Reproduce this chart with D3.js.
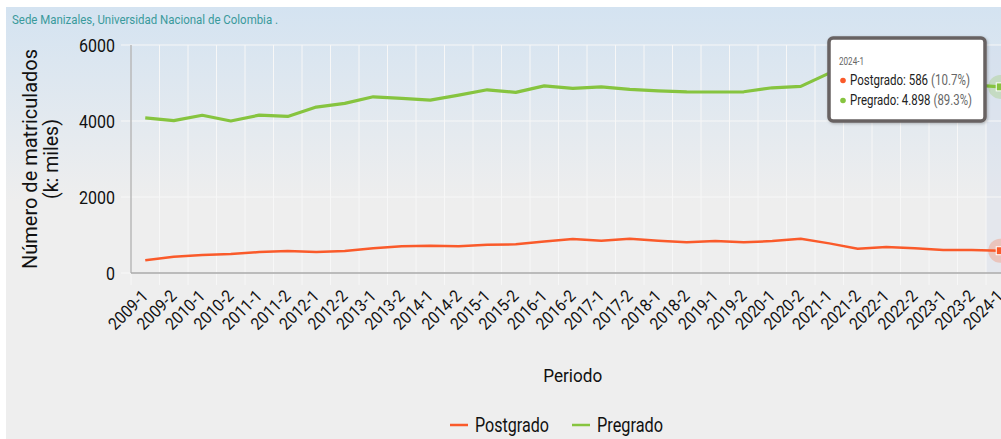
<!DOCTYPE html>
<html>
<head>
<meta charset="utf-8">
<title>Matriculados Sede Manizales</title>
<script src="https://d3js.org/d3.v7.min.js"></script>
<style>
  body { margin: 0; background: #fff; }
  svg { display: block; font-family: Roboto, "Noto Sans", sans-serif; }
</style>
</head>
<body>
<svg id="chart" width="1001" height="439"></svg>
<script>
// periods (semesters)
const periods = ["2009-1","2009-2","2010-1","2010-2","2011-1","2011-2","2012-1","2012-2",
  "2013-1","2013-2","2014-1","2014-2","2015-1","2015-2","2016-1","2016-2","2017-1","2017-2",
  "2018-1","2018-2","2019-1","2019-2","2020-1","2020-2","2021-1","2021-2","2022-1","2022-2",
  "2023-1","2023-2","2024-1"];

// values
const postgrado = [334, 429, 473, 500, 552, 579, 552, 579, 649, 702, 719, 702, 745, 754, 830,
  894, 850, 903, 850, 807, 842, 807, 842, 903, 780, 640, 684, 649, 605, 605, 586];
const pregrado = [4080, 4010, 4150, 4000, 4155, 4120, 4366, 4463, 4637, 4594, 4550, 4681, 4821, 4752, 4925,
  4857, 4900, 4831, 4795, 4769, 4763, 4769, 4874, 4910, 5260, 5150, 5100, 5050, 5000, 4950, 4898];

const yTicks = [0, 2000, 4000, 6000];

const series = [
  { name: "Postgrado", values: postgrado, color: "#fa5a2a", width: 2.5 },
  { name: "Pregrado", values: pregrado, color: "#86c43f", width: 3.2 }
];

const svg = d3.select("#chart");

// the original font is a condensed one, so squeeze Roboto to the widths seen
function squeeze(sel, w) {
  sel.attr("textLength", w).attr("lengthAdjust", "spacingAndGlyphs");
}

// background gradient
const defs = svg.append("defs");
const grad = defs.append("linearGradient").attr("id", "bg")
  .attr("x1", 0).attr("y1", 0).attr("x2", 0).attr("y2", 1);
grad.append("stop").attr("offset", "0%").attr("stop-color", "#d4e3f1");
grad.append("stop").attr("offset", "45%").attr("stop-color", "#eeeeee");
grad.append("stop").attr("offset", "100%").attr("stop-color", "#eeeeee");

const shadow = defs.append("filter").attr("id", "shadow")
  .attr("x", "-10%").attr("y", "-10%").attr("width", "130%").attr("height", "140%");
shadow.append("feDropShadow").attr("dx", 1).attr("dy", 1).attr("stdDeviation", 1.5)
  .attr("flood-color", "#000").attr("flood-opacity", 0.25);

svg.append("rect").attr("x", 6).attr("y", 7).attr("width", 995).attr("height", 432)
  .attr("fill", "url(#bg)");

// title
svg.append("text").attr("x", 12).attr("y", 24)
  .attr("font-size", 13.5).attr("fill", "#3a9a9c")
  .text("Sede Manizales, Universidad Nacional de Colombia .")
  .call(squeeze, 266);

// scales
const plotL = 131, plotR = 1014.5, plotT = 45, plotB = 273;
const xb = d3.scaleBand().domain(periods).range([plotL, plotR]);
const step = xb.bandwidth();
const x = p => xb(p) + step / 2;
const y = d3.scaleLinear().domain([0, 6000]).range([plotB, plotT]);

// hovered band
const last = periods[periods.length - 1];
svg.append("rect").attr("x", xb(last)).attr("y", plotT)
  .attr("width", step).attr("height", plotB - plotT)
  .attr("fill", "#ccd6eb").attr("opacity", 0.3);

// grid
const grid = svg.append("g");
grid.append("g").selectAll("line").data(yTicks).join("line")
  .attr("x1", 121).attr("x2", plotR)
  .attr("y1", d => y(d)).attr("y2", d => y(d))
  .attr("stroke", "#f7f7f7").attr("stroke-width", 1.2);
const bounds = periods.map(p => xb(p)).concat([plotR]);
grid.append("g").selectAll("line").data(bounds).join("line")
  .attr("x1", d => d).attr("x2", d => d)
  .attr("y1", plotT).attr("y2", plotB + 12)
  .attr("stroke", "#f7f7f7").attr("stroke-width", 1);

// axes lines
svg.append("line").attr("x1", plotL).attr("x2", plotL).attr("y1", plotT).attr("y2", plotB)
  .attr("stroke", "#9a9a9a").attr("stroke-width", 1);
svg.append("line").attr("x1", plotL).attr("x2", plotR).attr("y1", plotB).attr("y2", plotB)
  .attr("stroke", "#a8a8a8").attr("stroke-width", 1.5);

// y tick labels
svg.append("g").selectAll("text").data(yTicks).join("text")
  .attr("x", 115).attr("y", d => y(d) + 6.5)
  .attr("text-anchor", "end").attr("font-size", 18.5).attr("fill", "#111")
  .text(d => d)
  .each(function (d) { d3.select(this).call(squeeze, String(d).length * 9); });

// y title
const yt = svg.append("g").attr("transform", `translate(0,${(plotT + plotB) / 2}) rotate(-90)`);
yt.append("text").attr("x", 0).attr("y", 37).attr("text-anchor", "middle")
  .attr("font-size", 20).attr("fill", "#111").text("Número de matriculados")
  .call(squeeze, 220);
yt.append("text").attr("x", 0).attr("y", 58).attr("text-anchor", "middle")
  .attr("font-size", 20).attr("fill", "#111").text("(k: miles)")
  .call(squeeze, 80);

// x tick labels
svg.append("g").selectAll("text").data(periods).join("text")
  .attr("transform", p => `translate(${x(p) + 4},${plotB + 24}) rotate(-45)`)
  .attr("text-anchor", "end").attr("font-size", 17).attr("fill", "#111")
  .text(p => p)
  .call(squeeze, 48);

// x title
svg.append("text").attr("x", (plotL + plotR) / 2).attr("y", 382)
  .attr("text-anchor", "middle").attr("font-size", 19).attr("fill", "#111")
  .text("Periodo")
  .call(squeeze, 59);

// lines
const line = d3.line().x((d, i) => x(periods[i])).y(d => y(d));
svg.append("g").selectAll("path").data(series).join("path")
  .attr("d", s => line(s.values))
  .attr("fill", "none").attr("stroke", s => s.color)
  .attr("stroke-width", s => s.width).attr("stroke-linejoin", "round");

// hover markers on last period
const hov = svg.append("g").selectAll("g").data(series).join("g")
  .attr("transform", s => `translate(${x(last)},${y(s.values[s.values.length - 1])})`);
hov.append("circle").attr("r", 12).attr("fill", s => s.color).attr("opacity", 0.25);
hov.append("rect").attr("x", -4).attr("y", -4).attr("width", 8).attr("height", 8)
  .attr("fill", s => s.color).attr("stroke", "#fff").attr("stroke-width", 1);

// legend
const legend = svg.append("g");
const legX = [450, 572];
const legW = [74, 66];
series.forEach((s, i) => {
  legend.append("line").attr("x1", legX[i]).attr("x2", legX[i] + 18)
    .attr("y1", 425).attr("y2", 425).attr("stroke", s.color).attr("stroke-width", 2.5);
  legend.append("text").attr("x", legX[i] + 25).attr("y", 432)
    .attr("font-size", 19.5).attr("fill", "#111").text(s.name)
    .call(squeeze, legW[i]);
});

// tooltip
const loc = d3.formatLocale({ decimal: ",", thousands: ".", grouping: [3], currency: ["$", ""] });
const fmt = loc.format(",");
const total = d3.sum(series, s => s.values[s.values.length - 1]);
const tip = svg.append("g").attr("transform", "translate(829,38)");
tip.append("rect").attr("width", 156).attr("height", 83).attr("rx", 4)
  .attr("fill", "#fff").attr("stroke", "#676262").attr("stroke-width", 3.5)
  .attr("filter", "url(#shadow)");
tip.append("text").attr("x", 10).attr("y", 27).attr("font-size", 11).attr("fill", "#666")
  .text(last).call(squeeze, 25);
const rowW = [120, 122];
series.forEach((s, i) => {
  const v = s.values[s.values.length - 1];
  const row = tip.append("g").attr("transform", `translate(0,${47 + i * 20})`);
  row.append("circle").attr("cx", 14).attr("cy", -4.5).attr("r", 2.8).attr("fill", s.color);
  // text row drawn at natural width, then scaled horizontally to fit
  const txt = row.append("g");
  const a = txt.append("text").attr("x", 0).attr("y", 0).attr("font-size", 15.5).attr("fill", "#222")
    .text(`${s.name}: ${fmt(v)}`);
  const wa = a.node().getComputedTextLength();
  const b = txt.append("text").attr("x", wa + 4).attr("y", 0).attr("font-size", 15.5).attr("fill", "#666")
    .text(`(${(v / total * 100).toFixed(1)}%)`);
  const wb = b.node().getComputedTextLength();
  txt.attr("transform", `translate(21,0) scale(${rowW[i] / (wa + 4 + wb)},1)`);
});
</script>
</body>
</html>
